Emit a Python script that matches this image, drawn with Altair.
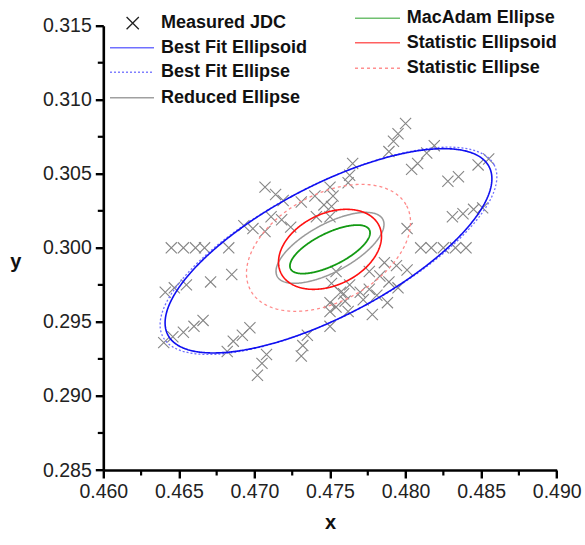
import altair as alt
import numpy as np
import pandas as pd

# ---------------- data ----------------
jdc_x = [0.4707, 0.4714, 0.4719, 0.4731, 0.4740, 0.4750, 0.4746, 0.4751, 0.4741, 0.4750,
         0.4711, 0.4718, 0.4724, 0.4693, 0.4699, 0.4707, 0.4645, 0.4653, 0.4661, 0.4667,
         0.4683, 0.4685, 0.4671, 0.4641, 0.4647, 0.4655, 0.4666, 0.4660, 0.4653, 0.4646,
         0.4640, 0.4697, 0.4692, 0.4686, 0.4682, 0.4708, 0.4705, 0.4702, 0.4735, 0.4732,
         0.4731, 0.4750, 0.4750, 0.4750, 0.4754, 0.4751, 0.4759, 0.4760, 0.4800, 0.4795,
         0.4792, 0.4789, 0.4765, 0.4763, 0.4762, 0.4819, 0.4814, 0.4808, 0.4804, 0.4848,
         0.4855, 0.4828, 0.4835, 0.4831, 0.4838, 0.4845, 0.4851, 0.4801, 0.4810, 0.4817,
         0.4825, 0.4833, 0.4840, 0.4752, 0.4786, 0.4794, 0.4801, 0.4776, 0.4783, 0.4789,
         0.4795, 0.4763, 0.4757, 0.4770, 0.4776, 0.4772, 0.4781, 0.4788, 0.4754, 0.4762,
         0.4778]
jdc_y = [0.3041, 0.3036, 0.3032, 0.3031, 0.3035, 0.3041, 0.3029, 0.3028, 0.3021, 0.3021,
         0.3021, 0.3019, 0.3014, 0.3015, 0.3013, 0.3011, 0.3000, 0.3000, 0.3000, 0.3000,
         0.3000, 0.2982, 0.2977, 0.2970, 0.2973, 0.2975, 0.2951, 0.2947, 0.2943, 0.2940,
         0.2936, 0.2946, 0.2941, 0.2937, 0.2930, 0.2928, 0.2922, 0.2914, 0.2941, 0.2934,
         0.2927, 0.2963, 0.2957, 0.2947, 0.2984, 0.2976, 0.2969, 0.2964, 0.3084, 0.3077,
         0.3072, 0.3065, 0.3057, 0.3049, 0.3044, 0.3069, 0.3064, 0.3057, 0.3053, 0.3056,
         0.3060, 0.3045, 0.3048, 0.3021, 0.3023, 0.3026, 0.3027, 0.3013, 0.3000, 0.3000,
         0.3000, 0.3000, 0.3000, 0.3035, 0.2990, 0.2988, 0.2985, 0.2984, 0.2981, 0.2977,
         0.2973, 0.2975, 0.2970, 0.2970, 0.2972, 0.2965, 0.2968, 0.2963, 0.2960, 0.2957,
         0.2955]

ellipse_names = ["Best Fit Ellipse", "Best Fit Ellipsoid", "Statistic Ellipse",
                 "Reduced Ellipse", "Statistic Ellipsoid", "MacAdam Ellipse"]
ellipse_cx = [0.4749, 0.4749, 0.4749, 0.4750, 0.4750, 0.4750]
ellipse_cy = [0.2998, 0.2998, 0.3000, 0.3000, 0.2999, 0.2999]
ellipse_a = [0.01240, 0.01205, 0.00590, 0.00399, 0.00362, 0.00292]   # semi-major
ellipse_b = [0.00440, 0.00439, 0.00361, 0.00161, 0.00241, 0.00109]   # semi-minor
ellipse_angle = [28.0, 28.3, 29.7, 29.1, 26.9, 26.9]                 # degrees

x_ticks = [0.460, 0.465, 0.470, 0.475, 0.480, 0.485, 0.490]
y_ticks = [0.285, 0.290, 0.295, 0.300, 0.305, 0.310, 0.315]
x_minor = [0.4625, 0.4675, 0.4725, 0.4775, 0.4825, 0.4875]
y_minor = [0.2875, 0.2925, 0.2975, 0.3025, 0.3075, 0.3125]

# ---------------- styles ----------------
styles = {
    "Best Fit Ellipsoid": dict(color="#1010f0", dash=[1, 0], width=1.6, lcolor="#7070ff"),
    "Best Fit Ellipse": dict(color="#7070ff", dash=[2, 2], width=1.3, lcolor="#8080ff"),
    "Reduced Ellipse": dict(color="#9a9a9a", dash=[1, 0], width=1.5, lcolor="#a0a0a0"),
    "MacAdam Ellipse": dict(color="#139a13", dash=[1, 0], width=1.8, lcolor="#70c070"),
    "Statistic Ellipsoid": dict(color="#ff1010", dash=[1, 0], width=1.6, lcolor="#ff6060"),
    "Statistic Ellipse": dict(color="#ff8a8a", dash=[3, 3], width=1.3, lcolor="#ff9090"),
}

W, H = 453.4, 444.3
FONT = "Liberation Sans"
X_PATH = "M-1,-1L1,1M-1,1L1,-1"

xs = alt.Scale(domain=[0.460, 0.490], nice=False, zero=False)
ys = alt.Scale(domain=[0.285, 0.315], nice=False, zero=False)

common_axis = dict(
    format=".3f", grid=False, domain=True, domainColor="black", domainWidth=2.6,
    ticks=True, tickColor="black", tickWidth=2.4, tickSize=8,
    labelFont=FONT, labelFontSize=19.5, labelColor="#222", labelPadding=4,
    labelFlush=False, labelOverlap=False,
    titleFont=FONT, titleFontSize=20, titleFontWeight="bold", titleColor="#111",
)
xaxis = alt.Axis(values=x_ticks, title="x", titleY=58, titleBaseline="alphabetic", **common_axis)
yaxis = alt.Axis(values=y_ticks, title="y", titleAngle=0, titleX=-88, titleY=242,
                 titleAlign="center", titleBaseline="alphabetic", **common_axis)

# ---------------- layers ----------------
pts = pd.DataFrame({"x": jdc_x, "y": jdc_y})
points = alt.Chart(pts).mark_point(
    shape=X_PATH, size=125, filled=False, color="#858585", strokeWidth=1.1, opacity=1
).encode(
    x=alt.X("x:Q", scale=xs, axis=xaxis),
    y=alt.Y("y:Q", scale=ys, axis=yaxis),
)

layers = [points]
t = np.linspace(0, 2 * np.pi, 241)
for name, cx, cy, a, b, ang in zip(ellipse_names, ellipse_cx, ellipse_cy,
                                   ellipse_a, ellipse_b, ellipse_angle):
    th = np.deg2rad(ang)
    ex = cx + a * np.cos(th) * np.cos(t) - b * np.sin(th) * np.sin(t)
    ey = cy + a * np.sin(th) * np.cos(t) + b * np.cos(th) * np.sin(t)
    df = pd.DataFrame({"x": ex, "y": ey, "i": np.arange(len(t))})
    st = styles[name]
    layers.append(
        alt.Chart(df).mark_line(color=st["color"], strokeWidth=st["width"],
                                strokeDash=st["dash"], clip=False).encode(
            x=alt.X("x:Q", scale=xs), y=alt.Y("y:Q", scale=ys), order="i:Q")
    )

# minor ticks
layers.append(
    alt.Chart(pd.DataFrame({"v": x_minor})).mark_rule(color="black", strokeWidth=2.2).encode(
        x=alt.X("v:Q", scale=xs), y=alt.value(H), y2=alt.value(H + 5.5))
)
layers.append(
    alt.Chart(pd.DataFrame({"v": y_minor})).mark_rule(color="black", strokeWidth=2.2).encode(
        y=alt.Y("v:Q", scale=ys), x=alt.value(0), x2=alt.value(-5.5))
)

# legend (pixel layout, relative to the plot area)
legend_left = ["Best Fit Ellipsoid", "Best Fit Ellipse", "Reduced Ellipse"]
legend_right = ["MacAdam Ellipse", "Statistic Ellipsoid", "Statistic Ellipse"]


def legend_text(label, x, y):
    return alt.Chart(pd.DataFrame({"label": [label]})).mark_text(
        align="left", baseline="middle", font=FONT, fontSize=18, fontWeight="bold",
        color="#111").encode(text="label:N", x=alt.value(x), y=alt.value(y))


def legend_line(label, x1, x2, y):
    st = styles[label]
    return alt.Chart(pd.DataFrame({"label": [label]})).mark_rule(
        color=st["lcolor"], strokeWidth=1.6, strokeDash=st["dash"]).encode(
        x=alt.value(x1), x2=alt.value(x2), y=alt.value(y))


# Measured JDC entry
layers.append(
    alt.Chart(pd.DataFrame({"label": ["Measured JDC"]})).mark_point(
        shape=X_PATH, size=150, filled=False, color="#222", strokeWidth=1.3, opacity=1
    ).encode(x=alt.value(29.4), y=alt.value(-2.6))
)
layers.append(legend_text("Measured JDC", 57.7, -2.4))
for lab, yy in zip(legend_left, [22.0, 46.6, 72.0]):
    layers.append(legend_line(lab, 6.7, 50.7, yy))
    layers.append(legend_text(lab, 57.7, yy))
for lab, yy in zip(legend_right, [-7.4, 17.0, 42.6]):
    layers.append(legend_line(lab, 251.7, 296.7, yy))
    layers.append(legend_text(lab, 303.4, yy))

chart = alt.layer(*layers).properties(
    width=W, height=H,
    autosize=alt.AutoSizeParams(type="none"),
    padding={"left": 103.3, "top": 25.7, "right": 585 - 103.3 - W, "bottom": 545 - 25.7 - H},
    background="white",
).configure_view(stroke=None)

chart.save("out.html", embed_options={"renderer": "svg", "actions": False})
